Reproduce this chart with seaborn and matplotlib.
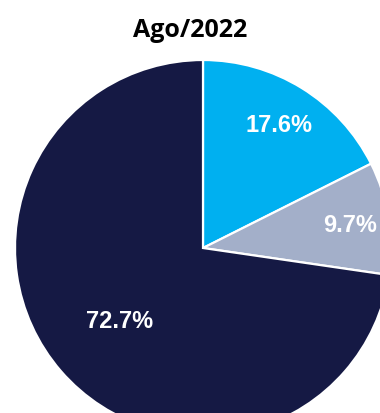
import numpy as np
import matplotlib
matplotlib.use("Agg")
import matplotlib.pyplot as plt
import seaborn as sns

sns.set_theme(style="white")

# Shares for Ago/2022, drawn clockwise from 12 o'clock
categories = ["Segmento A", "Segmento B", "Segmento C"]
shares = [17.6, 9.7, 72.7]
colors = ["#00B0F0", "#A3AFC9", "#151944"]
label_radius = [0.77, 0.79, 0.59]
title = "Ago/2022"

W, H = 380, 414
fig = plt.figure(figsize=(W / 100, H / 100), dpi=100)
ax = fig.add_axes([0, 0, 1, 1])

wedges, _ = ax.pie(
    shares,
    colors=colors,
    startangle=90,
    counterclock=False,
    radius=1.0,
    wedgeprops=dict(edgecolor="white", linewidth=1.6),
)

# Percentage labels placed along each wedge's bisector
for w, val, r in zip(wedges, shares, label_radius):
    mid = np.deg2rad((w.theta1 + w.theta2) / 2)
    ax.text(r * np.cos(mid), r * np.sin(mid), f"{val:.1f}%",
            ha="center", va="center", color="white",
            fontsize=17, fontweight="bold", family="Liberation Sans")

# Pie centre sits at (203, 249) px with radius 188 px; the disc runs off the right and bottom edges
cx, cy, R = 203, 249, 188
ax.set_aspect("auto")
ax.set_xlim(-cx / R, (W - cx) / R)
ax.set_ylim(-(H - cy) / R, cy / R)
ax.axis("off")

fig.text(190 / W, 1 - 37 / H, title, ha="center", va="baseline",
         fontsize=18, fontweight="bold", family="Open Sans", color="black")

fig.savefig("out.png", dpi=100, facecolor="white")
